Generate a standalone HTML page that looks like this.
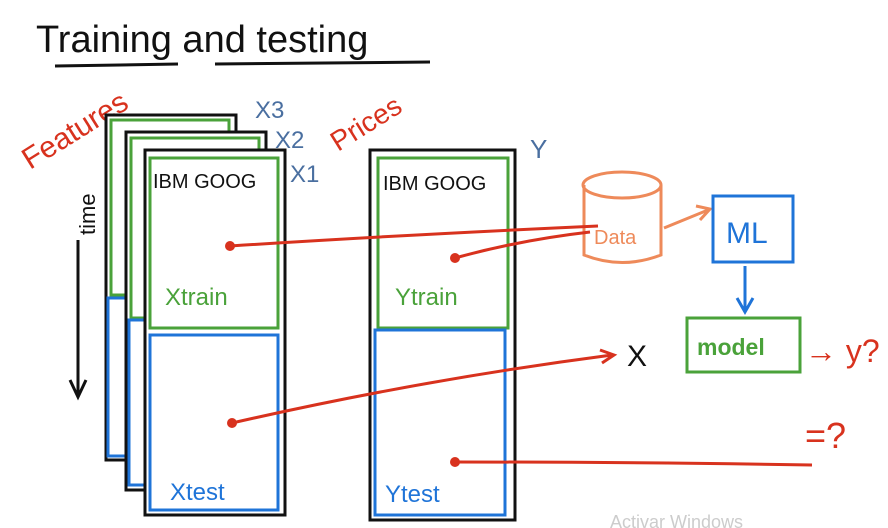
<!DOCTYPE html>
<html><head><meta charset="utf-8"><style>
html,body{margin:0;padding:0;background:#fff;width:888px;height:528px;overflow:hidden}
svg{display:block}
text{font-family:"Liberation Sans",sans-serif}
</style></head><body>
<svg width="888" height="528" viewBox="0 0 888 528" xmlns="http://www.w3.org/2000/svg">
<rect width="888" height="528" fill="#fff"/>
<text x="36" y="52" font-size="38" fill="#111">Training and testing</text>
<path d="M55 66 L178 64 M215 64 L430 62" stroke="#111" stroke-width="3" fill="none"/>
<text x="30" y="170" font-size="30" fill="#d8321e" transform="rotate(-32 30 170)">Features</text>
<text x="95" y="235" font-size="22" fill="#111" transform="rotate(-90 95 235)">time</text>
<path d="M78 240 L78 395 M70 380 L78 397 L86 380" stroke="#111" stroke-width="3" fill="none"/>
<rect x="106" y="115" width="130" height="345" fill="#fff" stroke="#111" stroke-width="3"/>
<rect x="111" y="120" width="118" height="175" fill="none" stroke="#4aa23a" stroke-width="3"/>
<rect x="108" y="298" width="118" height="158" fill="none" stroke="#1f74d8" stroke-width="3"/>
<rect x="126" y="132" width="140" height="358" fill="#fff" stroke="#111" stroke-width="3"/>
<rect x="131" y="138" width="128" height="180" fill="none" stroke="#4aa23a" stroke-width="3"/>
<rect x="129" y="320" width="128" height="165" fill="none" stroke="#1f74d8" stroke-width="3"/>
<rect x="145" y="150" width="140" height="365" fill="#fff" stroke="#111" stroke-width="3"/>
<rect x="150" y="158" width="128" height="170" fill="none" stroke="#4aa23a" stroke-width="3"/>
<rect x="150" y="335" width="128" height="175" fill="none" stroke="#1f74d8" stroke-width="3"/>
<text x="153" y="188" font-size="20" fill="#111">IBM GOOG</text>
<text x="165" y="305" font-size="24" fill="#4aa23a">Xtrain</text>
<text x="170" y="500" font-size="24" fill="#1f74d8">Xtest</text>
<text x="255" y="118" font-size="24" fill="#4a6fa0">X3</text>
<text x="275" y="148" font-size="24" fill="#4a6fa0">X2</text>
<text x="290" y="182" font-size="24" fill="#4a6fa0">X1</text>
<text x="338" y="152" font-size="28" fill="#d8321e" transform="rotate(-32 338 152)">Prices</text>
<rect x="370" y="150" width="145" height="370" fill="#fff" stroke="#111" stroke-width="3"/>
<rect x="378" y="158" width="130" height="170" fill="none" stroke="#4aa23a" stroke-width="3"/>
<rect x="375" y="330" width="130" height="185" fill="none" stroke="#1f74d8" stroke-width="3"/>
<text x="383" y="190" font-size="20" fill="#111">IBM GOOG</text>
<text x="395" y="305" font-size="24" fill="#4aa23a">Ytrain</text>
<text x="385" y="502" font-size="24" fill="#1f74d8">Ytest</text>
<text x="530" y="158" font-size="26" fill="#4a6fa0">Y</text>
<path d="M584 185 L584 255 Q622 270 661 255 L661 185" fill="none" stroke="#ee8a5a" stroke-width="3"/>
<ellipse cx="622" cy="185" rx="39" ry="13" fill="none" stroke="#ee8a5a" stroke-width="3"/>
<text x="594" y="244" font-size="20" fill="#ee8a5a">Data</text>
<path d="M664 228 L708 210 M696 206 L710 209 L700 220" stroke="#ee8a5a" stroke-width="3" fill="none"/>
<rect x="713" y="196" width="80" height="66" fill="none" stroke="#1f74d8" stroke-width="3"/>
<text x="726" y="243" font-size="30" fill="#1f74d8">ML</text>
<path d="M745 266 L745 310 M737 298 L745 312 L753 298" stroke="#1f74d8" stroke-width="3" fill="none"/>
<rect x="687" y="318" width="113" height="54" fill="none" stroke="#4aa23a" stroke-width="3"/>
<text x="697" y="355" font-size="23" font-weight="bold" fill="#4aa23a">model</text>
<text x="805" y="362" font-size="32" fill="#d8321e">→ y?</text>
<text x="805" y="448" font-size="36" fill="#d8321e">=?</text>
<text x="627" y="366" font-size="30" fill="#111">X</text>
<g stroke="#d8321e" stroke-width="3" fill="none">
<path d="M230 246 Q400 235 598 226"/>
<path d="M455 258 Q520 240 590 232"/>
<path d="M232 423 Q420 380 612 355 M600 350 L614 355 L602 363"/>
<path d="M455 462 Q640 462 812 465"/>
</g>
<g fill="#d8321e"><circle cx="230" cy="246" r="5"/><circle cx="455" cy="258" r="5"/><circle cx="232" cy="423" r="5"/><circle cx="455" cy="462" r="5"/></g>
<text x="610" y="528" font-size="18" fill="#ccc">Activar Windows</text>
</svg>
</body></html>
